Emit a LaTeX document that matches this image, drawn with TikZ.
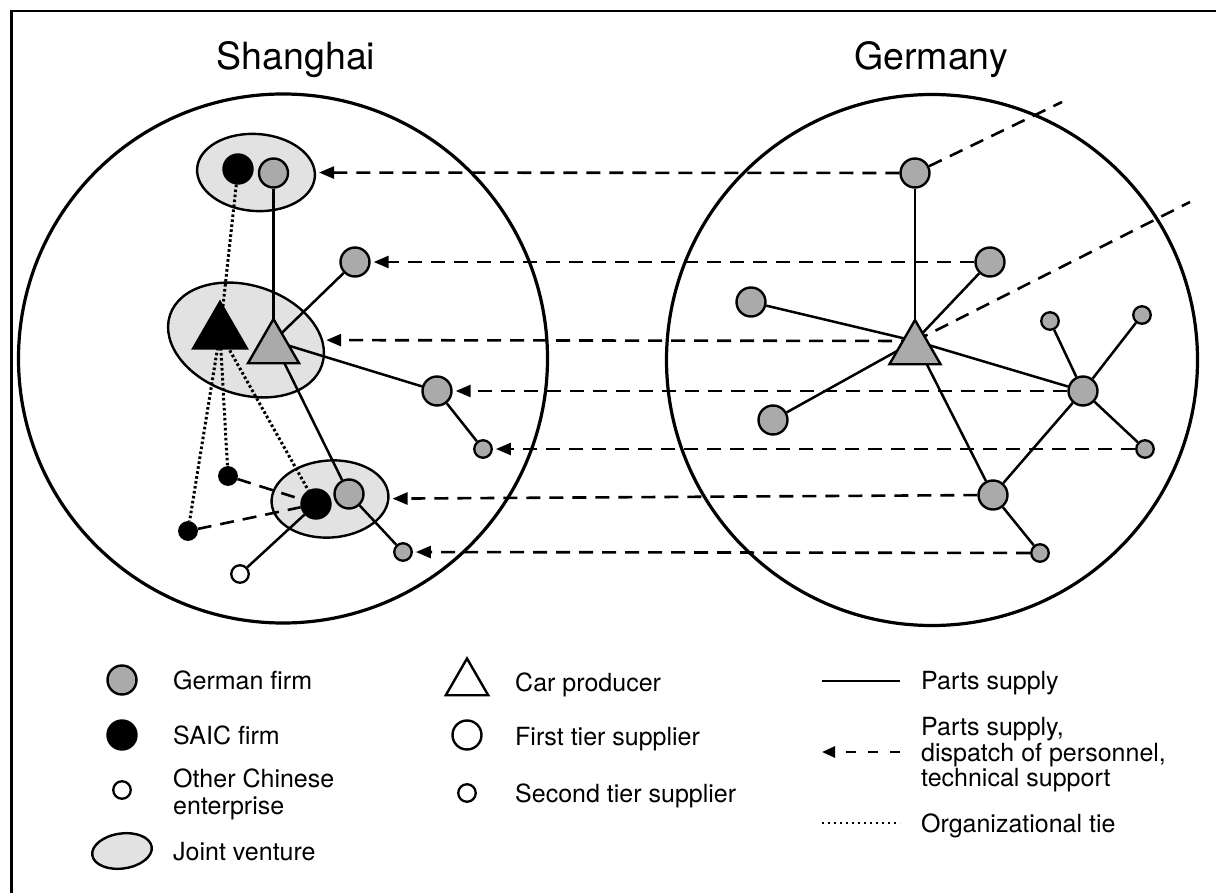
\documentclass[tikz,border=0pt]{standalone}
\usepackage{fontspec}
\setmainfont{TeX Gyre Heros}
\usetikzlibrary{shapes.geometric,arrows.meta}
\pgfdeclarelayer{bg}
\pgfdeclarelayer{mid}
\pgfsetlayers{bg,mid,main}
\definecolor{firmgrey}{HTML}{AAAAAA}
\definecolor{jvgrey}{HTML}{E2E2E2}
\begin{document}
\begin{tikzpicture}[x=1pt,y=-1pt,
  firm/.style={circle, draw, line width=2.4pt, inner sep=0pt, minimum size=29pt},
  small/.style={circle, draw, line width=2.3pt, inner sep=0pt, minimum size=17.5pt},
  german/.style={fill=firmgrey},
  saic/.style={fill=black},
  other/.style={fill=white},
  producer/.style={regular polygon, regular polygon sides=3, draw, line width=2.4pt, inner sep=0pt},
  jv/.style={ellipse, draw, line width=2.4pt, fill=jvgrey, inner sep=0pt},
  region/.style={circle, draw, line width=3.2pt, inner sep=0pt},
  supply/.style={line width=2.5pt},
  flowline/.style={line width=2.6pt, dash pattern=on 14pt off 9pt},
  flow/.style={flowline, -{Triangle[length=15pt,width=12pt]}, shorten >=3pt},
  tie/.style={line width=3pt, dash pattern=on 2.6pt off 2.4pt},
  title/.style={font=\fontsize{37.5}{40}\selectfont, anchor=base, inner sep=0pt},
  lbl/.style={font=\fontsize{25}{25.5}\selectfont, anchor=north west, inner sep=0pt, align=left}
]
\useasboundingbox (0,0) rectangle (1216,893);
% frame
\draw[line width=2.4pt] (11.5,893) -- (11.5,11) -- (1216,11);

% regions and joint ventures
\begin{pgfonlayer}{bg}
\node[region, minimum size=529pt] (SH) at (283,358.5) {};
\node[region, minimum size=531pt] (DE) at (932,360) {};
\node[jv, minimum width=118pt, minimum height=77pt, rotate=-4] (jv1) at (256,172.5) {};
\node[jv, minimum width=160pt, minimum height=109pt, rotate=-18] (jv2) at (246,340) {};
\node[jv, minimum width=117pt, minimum height=77pt, rotate=4] (jv3) at (330,499) {};
\end{pgfonlayer}

% titles
\node[title] (tSH) at (296,69.5) {Shanghai};
\node[title] (tDE) at (931,70) {Germany};

% Shanghai firms
\node[firm, saic] (s1) at (238,169) {};
\node[firm, german] (s2) at (273.5,173) {};
\node[producer, fill=black, minimum size=62pt] (sT1) at (220,333) {};
\node[producer, fill=firmgrey, minimum size=59pt] (sT2) at (273.5,348.5) {};
\node[firm, german] (s3) at (355,262) {};
\node[firm, german] (s4) at (437,391) {};
\node[small, german] (s5) at (483,449) {};
\node[firm, saic] (s6) at (316,504) {};
\node[firm, german] (s7) at (349,494) {};
\node[small, saic] (s8) at (228,476) {};
\node[small, saic] (s9) at (188,531) {};
\node[small, other] (s10) at (240,574) {};
\node[small, german] (s11) at (403,552) {};
\coordinate (hubS) at (273.5,341);

% Germany firms
\node[firm, german] (g1) at (915,173) {};
\node[firm, german] (g2) at (990,262) {};
\node[firm, german] (g3) at (751,302) {};
\node[producer, fill=firmgrey, minimum size=59pt] (gT) at (915,349.5) {};
\node[firm, german] (g4) at (773,420) {};
\node[small, german] (g5) at (1050,321) {};
\node[small, german] (g6) at (1142,315) {};
\node[firm, german] (g7) at (1083,391) {};
\node[small, german] (g8) at (1145,449) {};
\node[firm, german] (g9) at (993,495) {};
\node[small, german] (g10) at (1040,553) {};
\coordinate (hubG) at (915,341);
\coordinate (out1) at (1062,102);
\coordinate (out2) at (1190,202);

\begin{pgfonlayer}{mid}
% Shanghai parts supply
\draw[supply] (s2) -- (hubS);
\draw[supply] (hubS) -- (s3);
\draw[supply] (hubS) -- (s4);
\draw[supply] (hubS) -- (s7);
\draw[supply] (s4) -- (s5);
\draw[supply] (s7) -- (s11);
\draw[supply] (s6) -- (s10);
% organizational ties
\draw[tie] (s1) -- (sT1.center);
\draw[tie] (sT1.center) -- (s8);
\draw[tie] (sT1.center) -- (s9);
\draw[tie] (sT1.center) -- (s6);
% SAIC dashed links
\draw[flowline] (s8) -- (s6);
\draw[flowline] (s9) -- (s6);
% Germany parts supply
\draw[supply] (hubG) -- (g1);
\draw[supply] (hubG) -- (g2);
\draw[supply] (hubG) -- (g3);
\draw[supply] (hubG) -- (g4);
\draw[supply] (hubG) -- (g7);
\draw[supply] (hubG) -- (g9);
\draw[supply] (g7) -- (g5);
\draw[supply] (g7) -- (g6);
\draw[supply] (g7) -- (g8);
\draw[supply] (g7) -- (g9);
\draw[supply] (g9) -- (g10);
\draw[flowline] (g1) -- (out1);
\draw[flowline] (hubG) -- (out2);
% flows Germany -> Shanghai
\draw[flow] (g1) -- (jv1);
\draw[flow] (g2) -- (s3);
\draw[flow] (hubG) -- (jv2);
\draw[flow] (g7) -- (s4);
\draw[flow] (g8) -- (s5);
\draw[flow] (g9) -- (jv3);
\draw[flow] (g10) -- (s11);
\end{pgfonlayer}

% legend symbols
\node[firm, german] (L1) at (122,680) {};
\node[firm, saic] (L2) at (122,735) {};
\node[small, other] (L3) at (122,790) {};
\node[jv, minimum width=60pt, minimum height=35pt, rotate=8] (L4) at (122,851) {};
\node[producer, fill=white, minimum size=49pt] (L5) at (467,683) {};
\node[firm, other] (L6) at (467,735) {};
\node[small, other] (L7) at (467,793) {};
\coordinate (La1) at (822,681);
\coordinate (La2) at (900,681);
\coordinate (Lb1) at (822,752);
\coordinate (Lb2) at (900,752);
\coordinate (Lc1) at (822,823);
\coordinate (Lc2) at (900,823);
\draw[supply] (La1) -- (La2);
\draw[line width=2.6pt, dash pattern=on 10pt off 12pt, -{Triangle[length=13pt,width=11pt]}] (Lb2) -- (Lb1);
\draw[line width=2.6pt, dash pattern=on 2.2pt off 3.8pt] (Lc1) -- (Lc2);

% legend texts
\node[lbl] (T1) at (173,670.5) {German firm};
\node[lbl] (T2) at (173,725.5) {SAIC firm};
\node[lbl, font=\fontsize{25}{27}\selectfont] (T3) at (173,768.5) {Other Chinese\\enterprise};
\node[lbl] (T4) at (173,842.5) {Joint venture};
\node[lbl] (T5) at (515,672.5) {Car producer};
\node[lbl] (T6) at (515,727.5) {First tier supplier};
\node[lbl] (T7) at (515,783.5) {Second tier supplier};
\node[lbl] (T8) at (921,671.5) {Parts supply};
\node[lbl] (T9) at (921,717.5) {Parts supply,\\dispatch of personnel,\\technical support};
\node[lbl] (T10) at (921,813.5) {Organizational tie};
\end{tikzpicture}
\end{document}
